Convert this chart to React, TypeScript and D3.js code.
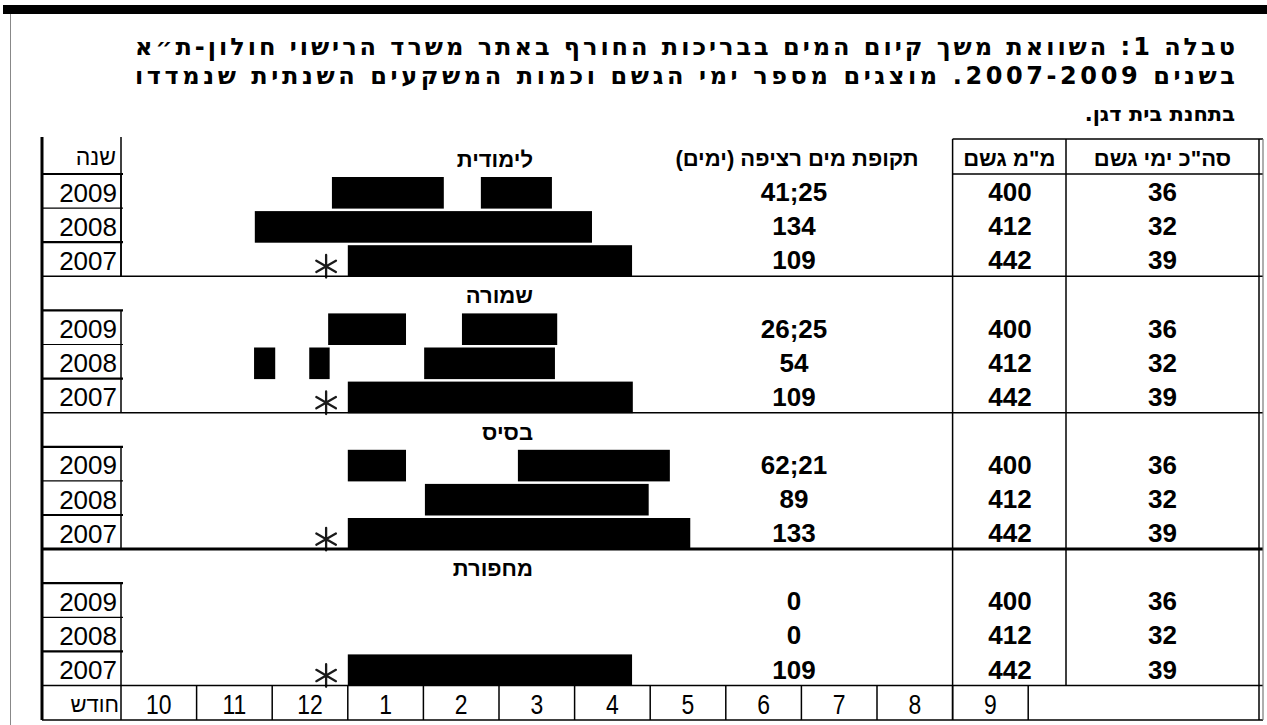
import React from "react";
import * as d3 from "d3";

// ---------- data ----------
const titleLines = [
  "טבלה 1: השוואת משך קיום המים בבריכות החורף באתר משרד הרישוי חולון-ת״א",
  "בשנים 2007-2009. מוצגים מספר ימי הגשם וכמות המשקעים השנתית שנמדדו",
  "בתחנת בית דגן.",
];
const groups = ["לימודית", "שמורה", "בסיס", "מחפורת"];
const years = ["2009", "2008", "2007"];
const monthLabels = ["10", "11", "12", "1", "2", "3", "4", "5", "6", "7", "8", "9"];
const durationLabels = [
  ["41;25", "134", "109"],
  ["26;25", "54", "109"],
  ["62;21", "89", "133"],
  ["0", "0", "109"],
];
const rainMm = ["400", "412", "442"];
const rainDays = ["36", "32", "39"];
// wet periods in months since 1 October: [start, end] segments per year (2009, 2008, 2007)
const wetLimudit = [[[2.79, 4.27], [4.76, 5.7]], [[1.77, 6.23]], [[3.0, 6.76]]];
const wetShmura = [[[2.74, 3.77], [4.51, 5.77]], [[1.76, 2.04], [2.49, 2.76], [4.01, 5.74]], [[3.0, 6.77]]];
const wetBasis = [[[3.0, 3.77], [5.25, 7.26]], [[4.02, 6.98]], [[3.0, 7.53]]];
const wetMachporet = [[], [], [[3.0, 6.76]]];
const wetPeriods = [wetLimudit, wetShmura, wetBasis, wetMachporet];
const asteriskYear = "2007";
const asteriskMonth = 2.7;

const headerYear = "שנה";
const headerDuration = "תקופת מים רציפה (ימים)";
const headerMm = 'מ"מ גשם';
const headerDays = 'סה"כ ימי גשם';
const headerMonth = "חודש";

// ---------- layout ----------
const W = 1267;
const H = 725;
const SANS = "'Liberation Sans', Arial, 'DejaVu Sans', sans-serif";
const TITLE_FONT = "'DejaVu Sans', 'Liberation Sans', sans-serif";

const x = d3.scaleLinear().domain([0, 12]).range([121, 1028.2]);
const rowTop = (i: number) => (i === 0 ? 137 : 174 + (i - 1) * 34.1);
const rowBot = (i: number) => rowTop(i + 1);

const colLeft = 42;
const colYear = 121;
const colMm = x(11);
const colDays = 1066;
const colRight = 1259;

const asteriskPath = d3.symbol(d3.symbolAsterisk, 360)() as string;

export default function App() {
  const els: React.ReactNode[] = [];
  let k = 0;
  const line = (x1: number, y1: number, x2: number, y2: number, w = 1.5, c = "#000") =>
    els.push(<line key={k++} x1={x1} y1={y1} x2={x2} y2={y2} stroke={c} strokeWidth={w} />);

  // bars
  groups.forEach((g, gi) => {
    years.forEach((yr, yi) => {
      const r = gi * 4 + 1 + yi;
      const t = rowTop(r) + 3;
      const b = rowBot(r) + 0.5;
      wetPeriods[gi][yi].forEach((seg) => {
        els.push(
          <rect key={k++} x={x(seg[0])} y={t} width={x(seg[1]) - x(seg[0])} height={b - t} fill="#000" />
        );
      });
      if (yr === asteriskYear) {
        els.push(
          <path key={k++} d={asteriskPath} transform={`translate(${x(asteriskMonth) + 1},${rowBot(r) - 10})`}
            fill="none" stroke="#1a1a1a" strokeWidth={2.3} strokeLinecap="round" />
        );
      }
    });
  });

  // year column
  line(colLeft, 137, colLeft, 720, 3);
  line(colYear, 137, colYear, rowBot(3));
  groups.forEach((g, gi) => {
    const r0 = gi * 4 + 1;
    line(colYear, rowTop(r0), colYear, rowBot(r0 + 2));
    for (let i = 0; i < 3; i++) line(colLeft, rowTop(r0 + i), colYear + 2, rowTop(r0 + i), i === 1 ? 1.2 : 2.2);
  });
  // group separators
  line(colLeft, rowTop(4), colRight + 4, rowTop(4), 1.5);
  line(colLeft, rowTop(8), colRight + 4, rowTop(8), 1.5);
  line(colLeft, rowTop(12), colRight + 4, rowTop(12), 3);
  line(colLeft, rowTop(16), colRight + 4, rowTop(16), 1.5);
  line(colLeft, 720, colRight + 4, 720, 1.5);
  // right columns
  line(colMm, 139, colRight + 4, 139, 1.5);
  line(colMm, rowBot(0), colRight + 4, rowBot(0), 1.5);
  line(colMm, 139, colMm, 720, 1.5);
  line(colDays, 139, colDays, rowTop(16), 1.5);
  line(colRight, 139, colRight, 720, 1.5);
  line(colRight + 4, 139, colRight + 4, 720, 1.2, "#777");
  // month row
  for (let m = 0; m <= 12; m++) line(x(m), rowTop(16), x(m), 720, 1.5);

  // texts
  const txt = (s: string, tx: number, ty: number, o: any = {}) =>
    els.push(
      <text key={k++} x={tx} y={ty} fontFamily={SANS} fontSize={o.size ?? 26} fontWeight={o.bold ? "bold" : "normal"}
        textAnchor={o.anchor ?? "middle"} direction={o.rtl ? "rtl" : "ltr"} fill="#000">{s}</text>
    );

  txt(headerYear, 116, rowBot(0) - 9, { size: 23, anchor: "start", rtl: true });
  txt(headerDuration, 797, rowBot(0) - 8, { size: 22, bold: true, rtl: true });
  txt(headerMm, (colMm + colDays) / 2, rowBot(0) - 8, { size: 22, bold: true, rtl: true });
  txt(headerDays, (colDays + colRight) / 2, rowBot(0) - 8, { size: 22, bold: true, rtl: true });

  groups.forEach((g, gi) => {
    txt(g, 533, rowBot(gi * 4) - 7, { size: 22, bold: true, anchor: "start", rtl: true });
    years.forEach((yr, yi) => {
      const r = gi * 4 + 1 + yi;
      const by = rowBot(r) - 7;
      txt(yr, 117, by + 0.5, { size: 26, anchor: "end" });
      txt(durationLabels[gi][yi], 794, by, { size: 26, bold: true });
      txt(rainMm[yi], 1010, by, { size: 26, bold: true });
      txt(rainDays[yi], (colDays + colRight) / 2, by, { size: 26, bold: true });
    });
  });

  txt(headerMonth, 119, 712, { size: 22, anchor: "start", rtl: true });
  monthLabels.forEach((m, i) => {
    els.push(
      <text key={k++} transform={`translate(${(x(i) + x(i + 1)) / 2},714) scale(0.85,1)`} textAnchor="middle"
        fontFamily={SANS} fontSize={27} fill="#000">{m}</text>
    );
  });

  return (
    <svg width={W} height={H} style={{ position: "absolute", left: 0, top: 0, background: "#fff" }}>
      <rect x={0} y={0} width={W} height={H} fill="#fff" />
      <rect x={3} y={5} width={W - 3} height={9} fill="#000" />
      <line x1={10.5} y1={14} x2={10.5} y2={H} stroke="#888" strokeWidth={1} />
      {titleLines.map((t, i) => (
        <text key={"t" + i} x={1235} y={[55, 84, 121][i]} direction="rtl" textAnchor="start"
          fontFamily={TITLE_FONT} fontWeight="bold" fontSize={i < 2 ? 24 : 21} fill="#000"
          {...(i < 2 ? { textLength: 1100, lengthAdjust: "spacing" } : {})}>{t}</text>
      ))}
      {els}
    </svg>
  );
}
